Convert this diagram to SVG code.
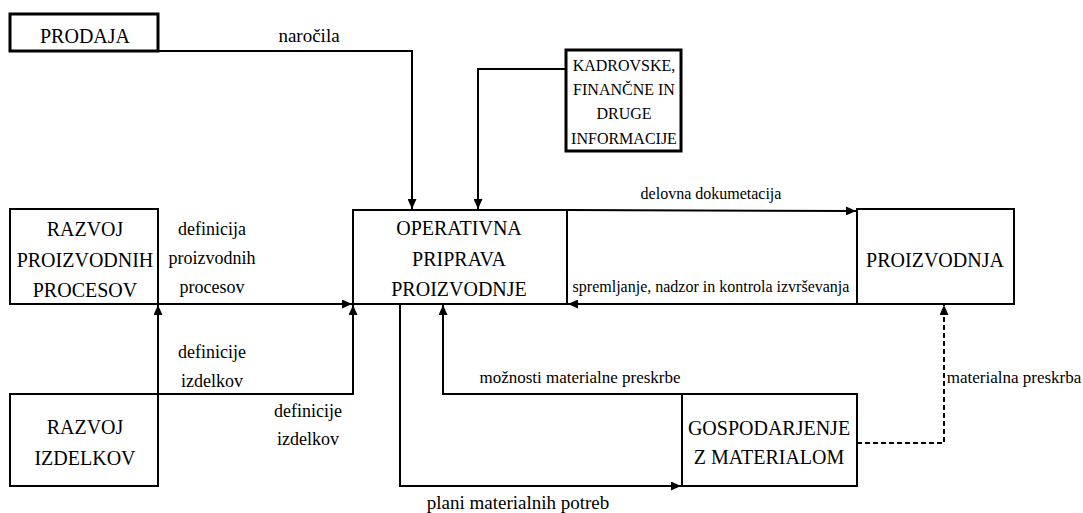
<svg xmlns="http://www.w3.org/2000/svg" width="1083" height="513" viewBox="0 0 1083 513" font-family="'Liberation Serif', serif">
<style>
.box{fill:#fff;stroke:#000;stroke-width:2}
.box3{fill:#fff;stroke:#000;stroke-width:3}
.t{font-size:20px;fill:#000;text-anchor:middle}
.s{font-size:16px}
.s17{font-size:17px}
.m{font-size:18px}
.l{font-size:19px}
.c{fill:none;stroke:#000;stroke-width:2}
.d{stroke-dasharray:5,3}
</style>
<defs>
<marker id="ah" markerUnits="userSpaceOnUse" markerWidth="10" markerHeight="9" refX="10" refY="4.5" orient="auto">
<path d="M0,0 L10,4.5 L0,9 z" fill="#000"/>
</marker>
</defs>
<rect width="1083" height="513" fill="#fff"/>
<g id="connectors">
<path class="c" d="M158,51 H412 V209" marker-end="url(#ah)"/>
<path class="c" d="M566,69 H478 V209" marker-end="url(#ah)"/>
<path class="c" d="M158,304 H352" marker-end="url(#ah)"/>
<path class="c" d="M158,394 V305" marker-end="url(#ah)"/>
<path class="c" d="M158,394 H353 V305" marker-end="url(#ah)"/>
<path class="c" d="M567,210 L856,211" marker-end="url(#ah)"/>
<path class="c" d="M857,304 H568" marker-end="url(#ah)"/>
<path class="c" d="M682,394 H443 V305" marker-end="url(#ah)"/>
<path class="c" d="M400,304 V486 H681" marker-end="url(#ah)"/>
<path class="c d" d="M857,443 H944 V305" marker-end="url(#ah)"/>
<text class="t l" font-family="'Liberation Serif', serif" x="309" y="42">naro&#269;ila</text>
<text class="t s" font-family="'Liberation Serif', serif" x="711" y="199">delovna dokumetacija</text>
<text class="t s" font-family="'Liberation Serif', serif" x="711" y="292">spremljanje, nadzor in kontrola izvr&#353;evanja</text>
<text class="t m" font-family="'Liberation Serif', serif" x="212" y="235">definicija</text>
<text class="t m" font-family="'Liberation Serif', serif" x="212" y="264">proizvodnih</text>
<text class="t m" font-family="'Liberation Serif', serif" x="212" y="293">procesov</text>
<text class="t m" font-family="'Liberation Serif', serif" x="212" y="358">definicije</text>
<text class="t m" font-family="'Liberation Serif', serif" x="212" y="387">izdelkov</text>
<text class="t m" font-family="'Liberation Serif', serif" x="308" y="417">definicije</text>
<text class="t m" font-family="'Liberation Serif', serif" x="308" y="445">izdelkov</text>
<text class="t s17" font-family="'Liberation Serif', serif" x="580" y="383">mo&#382;nosti materialne preskrbe</text>
<text class="t l" font-family="'Liberation Serif', serif" x="518" y="509">plani materialnih potreb</text>
<text class="t s17" font-family="'Liberation Serif', serif" x="1014" y="383">materialna preskrba</text>
</g>
<g id="prodaja">
<rect class="box3" x="10" y="14" width="148" height="37"/>
<text class="t" font-family="'Liberation Serif', serif" x="85" y="43">PRODAJA</text>
</g>
<g id="kadrovske">
<rect class="box3" x="566" y="50" width="115" height="101"/>
<text class="t s" font-family="'Liberation Serif', serif" x="624" y="71">KADROVSKE,</text>
<text class="t s" font-family="'Liberation Serif', serif" x="624" y="95">FINAN&#268;NE IN</text>
<text class="t s" font-family="'Liberation Serif', serif" x="624" y="119">DRUGE</text>
<text class="t s" font-family="'Liberation Serif', serif" x="624" y="144">INFORMACIJE</text>
</g>
<g id="razvoj-procesov">
<rect class="box" x="10" y="209" width="148" height="95"/>
<text class="t" font-family="'Liberation Serif', serif" x="85" y="236">RAZVOJ</text>
<text class="t" font-family="'Liberation Serif', serif" x="85" y="267">PROIZVODNIH</text>
<text class="t" font-family="'Liberation Serif', serif" x="85" y="297">PROCESOV</text>
</g>
<g id="operativna">
<rect class="box" x="353" y="210" width="214" height="94"/>
<text class="t" font-family="'Liberation Serif', serif" x="459" y="235">OPERATIVNA</text>
<text class="t" font-family="'Liberation Serif', serif" x="459" y="266">PRIPRAVA</text>
<text class="t" font-family="'Liberation Serif', serif" x="459" y="296">PROIZVODNJE</text>
</g>
<g id="proizvodnja">
<rect class="box" x="857" y="209" width="157" height="95"/>
<text class="t" font-family="'Liberation Serif', serif" x="935" y="267">PROIZVODNJA</text>
</g>
<g id="razvoj-izdelkov">
<rect class="box" x="10" y="394" width="148" height="92"/>
<text class="t" font-family="'Liberation Serif', serif" x="85" y="434">RAZVOJ</text>
<text class="t" font-family="'Liberation Serif', serif" x="85" y="465">IZDELKOV</text>
</g>
<g id="gospodarjenje">
<rect class="box" x="682" y="394" width="175" height="92"/>
<text class="t" font-family="'Liberation Serif', serif" x="769" y="435">GOSPODARJENJE</text>
<text class="t" font-family="'Liberation Serif', serif" x="769" y="464">Z MATERIALOM</text>
</g>
</svg>
